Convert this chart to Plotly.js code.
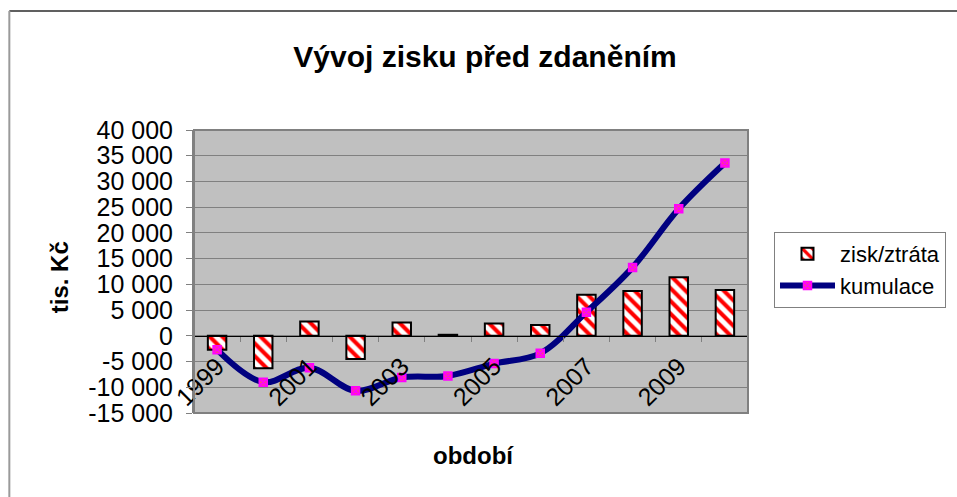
<!DOCTYPE html>
<html>
<head>
<meta charset="utf-8">
<script src="https://cdn.plot.ly/plotly-3.0.1.min.js"></script>
<style>html,body{margin:0;padding:0;background:#fff;}#chart{width:957px;height:497px;}</style>
</head>
<body>
<div id="chart"></div>
<script>
const years = ['1999','2000','2001','2002','2003','2004','2005','2006','2007','2008','2009','2010'];
const ziskZtrata = [-2700, -6300, 2800, -4500, 2600, 200, 2400, 2100, 8000, 8700, 11400, 8900];
const kumulace = [-2700, -9000, -6200, -10700, -8100, -7800, -5400, -3400, 4600, 13300, 24700, 33600];
const xTickText = ['1999','','2001','','2003','','2005','','2007','','2009',''];
const yTickVals = [-15000,-10000,-5000,0,5000,10000,15000,20000,25000,30000,35000,40000];
const yTickText = ['-15 000','-10 000','-5 000','0','5 000','10 000','15 000','20 000','25 000','30 000','35 000','40 000'];

const FONT = 'Liberation Sans, Arial, sans-serif';
const L = 194, R = 749, T = 130, B = 413, W = 957, H = 497;
const px = v => (v - L) / (R - L);
const py = v => (B - v) / (B - T);

const traces = [
  {
    type: 'bar', name: 'zisk/ztráta', x: years, y: ziskZtrata,
    marker: {
      color: '#FFFFFF',
      line: {color: '#000000', width: 2},
      pattern: {shape: '\\', fgcolor: '#FF0000', bgcolor: '#FFFFFF', size: 9, solidity: 0.45}
    },
    hoverinfo: 'skip'
  },
  {
    type: 'scatter', mode: 'lines+markers', name: 'kumulace', x: years, y: kumulace,
    line: {color: '#000080', width: 6, shape: 'spline', smoothing: 1},
    marker: {symbol: 'square-x', size: 8, color: '#FF3399', line: {color: '#FF00FF', width: 1.5}},
    hoverinfo: 'skip'
  }
];

const layout = {
  width: W, height: H,
  margin: {l: L, r: W - R, t: T, b: H - B, pad: 0},
  paper_bgcolor: '#FFFFFF', plot_bgcolor: '#C0C0C0',
  font: {family: FONT, size: 25, color: '#000000'},
  bargap: 0.6,
  showlegend: true,
  title: {
    text: '<b>Vývoj zisku před zdaněním</b>',
    font: {family: FONT, size: 30, color: '#000'},
    xref: 'container', yref: 'container', x: 485 / W, y: 1 - 56 / H, xanchor: 'center', yanchor: 'middle'
  },
  xaxis: {
    type: 'category', anchor: 'free', position: 15000 / 55000,
    range: [-0.5, 11.5],
    tickmode: 'array', tickvals: years, ticktext: xTickText,
    tickson: 'boundaries', ticks: 'outside', ticklen: 5, tickcolor: '#808080', tickwidth: 1,
    tickangle: -45, tickfont: {family: FONT, size: 25, color: '#000'},
    ticklabelstandoff: 5,
    showline: true, linecolor: '#000000', linewidth: 1,
    showgrid: false, zeroline: false, fixedrange: true
  },
  yaxis: {
    range: [-15000, 40000],
    tickmode: 'array', tickvals: yTickVals, ticktext: yTickText,
    ticks: 'outside', ticklen: 6, tickcolor: '#808080',
    tickfont: {family: FONT, size: 25, color: '#000'},
    ticklabelstandoff: 8,
    showgrid: true, gridcolor: '#808080', gridwidth: 1,
    zeroline: false, showline: true, linecolor: '#808080', linewidth: 2,
    fixedrange: true
  },
  legend: {
    x: px(774), y: py(232), xanchor: 'left', yanchor: 'top',
    xref: 'paper', yref: 'paper',
    bgcolor: '#FFFFFF', bordercolor: '#808080', borderwidth: 1,
    font: {family: FONT, size: 22, color: '#000'},
    itemwidth: 55
  },
  annotations: [
    {text: '<b>tis. Kč</b>', xref: 'paper', yref: 'paper', x: px(59), y: py(277),
     textangle: -90, showarrow: false, font: {family: FONT, size: 24, color: '#000'}, xanchor: 'center', yanchor: 'middle'},
    {text: '<b>období</b>', xref: 'paper', yref: 'paper', x: px(474), y: py(455),
     showarrow: false, font: {family: FONT, size: 24, color: '#000'}, xanchor: 'center', yanchor: 'middle'}
  ],
  shapes: [
    {type: 'rect', xref: 'paper', yref: 'paper', x0: 0, x1: 1, y0: 0, y1: 1, line: {color: '#808080', width: 2}, layer: 'above'},
    {type: 'line', xref: 'paper', yref: 'paper', x0: px(9), x1: px(960), y0: py(11), y1: py(11), line: {color: '#606060', width: 2}},
    {type: 'line', xref: 'paper', yref: 'paper', x0: px(9), x1: px(9), y0: py(11), y1: py(500), line: {color: '#9A9A9A', width: 2}}
  ]
};

Plotly.newPlot('chart', traces, layout, {displayModeBar: false, staticPlot: true});
</script>
</body>
</html>
